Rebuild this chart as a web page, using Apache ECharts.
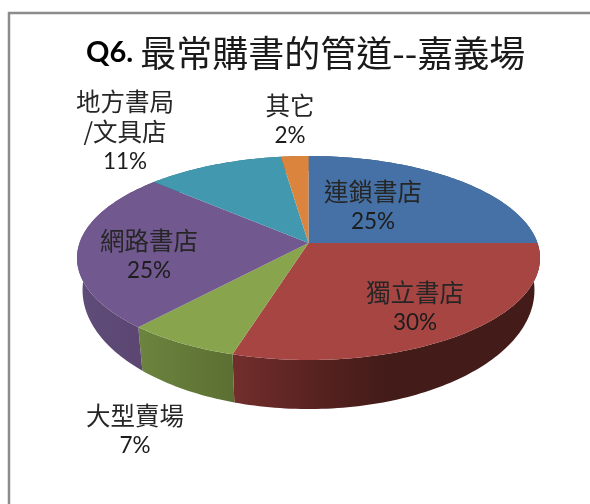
<!DOCTYPE html>
<html><head><meta charset="utf-8">
<style>html,body{margin:0;padding:0;background:#fff}#c{width:590px;height:504px;filter:blur(0.35px)}</style>
<script src="https://cdn.jsdelivr.net/npm/echarts@6/dist/echarts.min.js"></script>
</head><body><div id="c"></div>
<script>
const categories = ['連鎖書店','獨立書店','大型賣場','網路書店','地方書局\n/文具店','其它'];
const values = [25, 29.6, 6.9, 25.2, 11.1, 2.2];
const topColors = ['#4571a6','#a74543','#88a44c','#71588f','#4198af','#db843d'];
const wallStops = [
  [[0,'#2f4d72'],[1,'#2f4d72']],
  [[0,'#722e2c'],[0.3,'#54211f'],[0.5,'#431b18'],[1,'#431b18']],
  [[0,'#6c843f'],[1,'#5b6f32']],
  [[0,'#5f4c78'],[1,'#5a4570']],
  [[0,'#2c6a7c'],[1,'#2c6a7c']],
  [[0,'#9c5f2c'],[1,'#9c5f2c']]
];
const labelCenters = [[373,207],[415,308],[135,431],[149,256],[125,132],[290,121]];

const geo = {cx:308.5, cy:243, rx:229, ry:99.8, persp:0.147, bottomCy:272.6, bottomRy:116.4, shrink:0.976};
const total = values.reduce((a,b)=>a+b,0);
function startAngle(i){ let s=0; for(let k=0;k<i;k++) s+=values[k]; return s/total*Math.PI*2; }
function topPoint(t){
  const u=Math.sin(t), v=-Math.cos(t), s=1/(1-geo.persp*v);
  return [geo.cx+geo.rx*u*s, geo.cy+geo.ry*v*s];
}
function bottomPoint(t){
  const u=Math.sin(t), v=-Math.cos(t), s=1/(1-geo.persp*v);
  return [geo.cx+geo.shrink*geo.rx*u*s, geo.bottomCy+geo.bottomRy*v*s];
}
function arc(i,fn){
  const a=startAngle(i), b=a+values[i]/total*Math.PI*2, n=Math.max(8,Math.ceil((b-a)/0.02)), p=[];
  for(let k=0;k<=n;k++) p.push(fn(a+(b-a)*k/n));
  return p;
}
const seriesData = categories.map((name,i)=>({name, value:values[i]}));

function renderWall(params){
  const i=params.dataIndex;
  const pts=arc(i,topPoint).concat(arc(i,bottomPoint).reverse());
  return {type:'polygon', shape:{points:pts}, silent:true, style:{
    fill:new echarts.graphic.LinearGradient(0,0,1,0,wallStops[i].map(s=>({offset:s[0],color:s[1]})))
  }};
}
function renderTop(params){
  const i=params.dataIndex;
  const pts=[[geo.cx,geo.cy]].concat(arc(i,topPoint));
  const lines=categories[i].split('\n').map(l=>'{n|'+l+'}');
  lines.push('{p|'+Math.round(values[i]/total*100)+'%}');
  return {type:'group', children:[
    {type:'polygon', shape:{points:pts}, silent:true, style:{fill:topColors[i]}, z2:1},
    {type:'text', z2:5, silent:true, style:{
      x:labelCenters[i][0], y:labelCenters[i][1], align:'center', verticalAlign:'middle',
      text:lines.join('\n'),
      rich:{
        n:{fontFamily:'"Noto Sans CJK TC"',fontSize:24.5,lineHeight:30,fill:'#262626',align:'center'},
        p:{fontFamily:'Lato',fontSize:22.5,lineHeight:30,fill:'#1c1c1c',align:'center'}
      }
    }}
  ]};
}
const chart=echarts.init(document.getElementById('c'),null,{renderer:'canvas'});
chart.setOption({
  animation:false,
  backgroundColor:'#fff',
  title:{
    left:81, top:30,
    text:'{a|Q6. }{b|最常購書的管道--嘉義場}',
    textStyle:{rich:{
      a:{fontFamily:'Lato',fontWeight:'bold',fontSize:29,color:'#000'},
      b:{fontFamily:'"Noto Sans CJK TC"',fontWeight:'normal',fontSize:36,color:'#1a1a1a'}
    }}
  },
  graphic:[{type:'rect',silent:true,shape:{x:9,y:13,width:700,height:600},style:{fill:'none',stroke:'#8c8c8c',lineWidth:2.5}}],
  series:[
    {type:'custom',name:'side',coordinateSystem:'none',renderItem:renderWall,data:seriesData,z:1},
    {type:'custom',name:'top',coordinateSystem:'none',renderItem:renderTop,data:seriesData,z:2}
  ]
});
</script></body></html>
